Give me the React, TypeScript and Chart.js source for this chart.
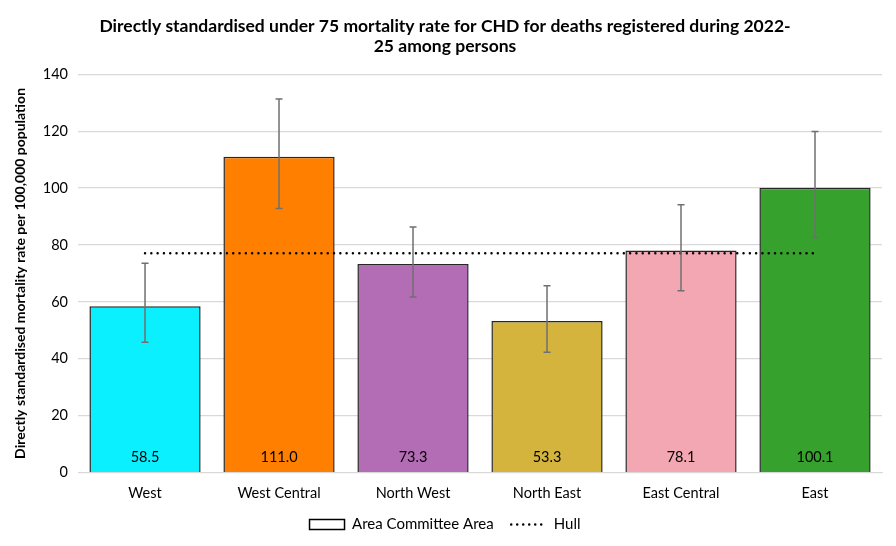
import { useEffect, useRef } from 'react';
import Chart from 'chart.js/auto';

const areas = ['West', 'West Central', 'North West', 'North East', 'East Central', 'East'];
const rates = [58.5, 111.0, 73.3, 53.3, 78.1, 100.1];
const lowerCI = [45.8, 92.8, 61.7, 42.3, 63.9, 82.6];
const upperCI = [73.6, 131.3, 86.3, 65.7, 94.1, 119.9];
const hullRate = [77.1, 77.1, 77.1, 77.1, 77.1, 77.1];
const barColours = ['#0AF0FF', '#FF8000', '#B36DB4', '#D4B43C', '#F2A7B2', '#36A12C'];

const FONT = 'Lato, "Open Sans", sans-serif';

// error bars + value labels at the foot of each bar
const barExtras = {
  id: 'barExtras',
  afterDatasetsDraw(chart: any) {
    const { ctx, scales } = chart;
    const meta = chart.getDatasetMeta(0);
    const y = scales.y;
    ctx.save();
    meta.data.forEach((bar: any, i: number) => {
      ctx.fillStyle = '#000';
      ctx.font = `14.5px ${FONT}`;
      ctx.textAlign = 'center';
      ctx.textBaseline = 'middle';
      ctx.fillText(rates[i].toFixed(1), bar.x, y.bottom - 15);

      const top = y.getPixelForValue(upperCI[i]);
      const bot = y.getPixelForValue(lowerCI[i]);
      ctx.strokeStyle = '#707070';
      ctx.lineWidth = 1.5;
      ctx.beginPath();
      ctx.moveTo(bar.x, top);
      ctx.lineTo(bar.x, bot);
      ctx.moveTo(bar.x - 3.5, top);
      ctx.lineTo(bar.x + 3.5, top);
      ctx.moveTo(bar.x - 3.5, bot);
      ctx.lineTo(bar.x + 3.5, bot);
      ctx.stroke();
    });
    ctx.restore();
  },
};

const MortalityChart: React.FC = () => {
  const chartRef = useRef<HTMLCanvasElement | null>(null);
  const chartInstance = useRef<Chart | null>(null);

  useEffect(() => {
    document.body.style.margin = '0';
    if (!chartRef.current) return;
    if (chartInstance.current) chartInstance.current.destroy();

    chartInstance.current = new Chart(chartRef.current, {
      type: 'bar',
      data: {
        labels: areas,
        datasets: [
          {
            type: 'bar',
            label: 'Area Committee Area',
            data: rates,
            backgroundColor: barColours,
            borderColor: '#262626',
            borderWidth: 1.5,
            categoryPercentage: 1,
            barPercentage: 0.83,
            order: 1,
          },
          {
            type: 'line',
            label: 'Hull',
            data: hullRate,
            borderColor: '#000',
            borderWidth: 2.5,
            borderDash: [0, 6.3],
            borderCapStyle: 'round',
            pointRadius: 0,
            fill: false,
            order: 0,
          },
        ] as any,
      },
      options: {
        animation: false,
        responsive: false,
        layout: { padding: { left: 8, right: 14, top: 4, bottom: 4 } },
        plugins: {
          title: {
            display: true,
            text: [
              'Directly standardised under 75 mortality rate for CHD for deaths registered during 2022-',
              '25 among persons',
            ],
            color: '#000',
            font: { family: FONT, size: 17.5, weight: 'bold', lineHeight: 1.15 },
            padding: { top: 12, bottom: 18 },
          },
          legend: {
            position: 'bottom',
            labels: {
              color: '#000',
              font: { family: FONT, size: 15 },
              usePointStyle: true,
              boxWidth: 35,
              boxHeight: 10,
              pointStyleWidth: 35,
              padding: 6,
              generateLabels: (chart: any) =>
                chart.data.datasets.map((ds: any, i: number) =>
                  i === 0
                    ? {
                        text: ds.label + '   ',
                        fillStyle: '#fff',
                        strokeStyle: '#000',
                        lineWidth: 1.5,
                        pointStyle: 'rect',
                        datasetIndex: i,
                        fontColor: '#000',
                      }
                    : {
                        text: ds.label,
                        fillStyle: 'rgba(0,0,0,0)',
                        strokeStyle: '#000',
                        lineWidth: 2.5,
                        lineDash: [0, 6],
                        lineCap: 'round',
                        pointStyle: 'line',
                        datasetIndex: i,
                        fontColor: '#000',
                      }
                ),
            },
          },
          tooltip: { enabled: false },
        },
        scales: {
          x: {
            grid: { display: false },
            border: { color: '#d9d9d9' },
            ticks: { color: '#000', font: { family: FONT, size: 14.5 }, padding: 4.5 },
            afterFit: (scale: any) => {
              scale.height += 4;
            },
          },
          y: {
            min: 0,
            max: 140,
            ticks: { stepSize: 20, color: '#000', font: { family: FONT, size: 14.5 }, padding: 10 },
            grid: { color: '#d9d9d9', lineWidth: 1.3, drawTicks: false },
            border: { display: false },
            title: {
              display: true,
              text: 'Directly standardised mortality rate per 100,000 population',
              color: '#000',
              font: { family: FONT, size: 14, weight: 'bold' },
              padding: { bottom: 4 },
            },
          },
        },
      },
      plugins: [barExtras],
    });
    return () => {
      chartInstance.current?.destroy();
    };
  }, []);

  return (
    <div style={{ width: 896, height: 546, background: '#fff' }}>
      <canvas ref={chartRef} width={896} height={546} />
    </div>
  );
};

export default function App() {
  return <MortalityChart />;
}
